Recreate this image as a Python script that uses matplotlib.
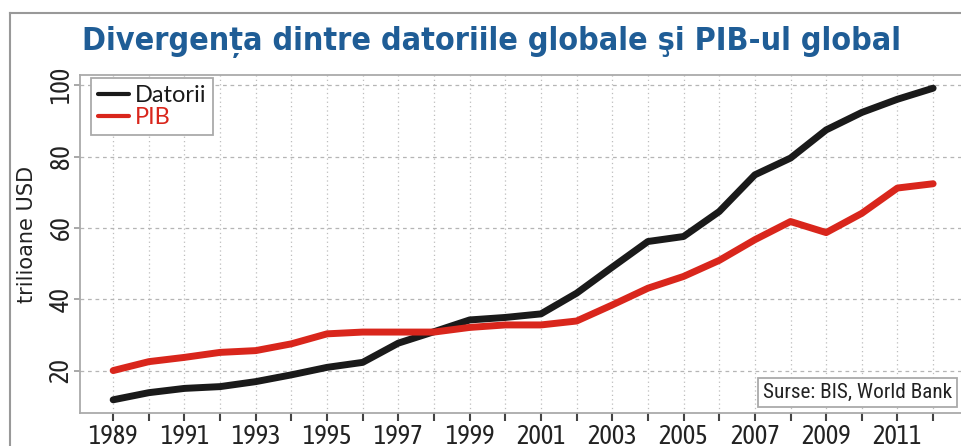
import matplotlib
matplotlib.use("Agg")
import matplotlib.pyplot as plt
from matplotlib.lines import Line2D

# ani si valori (trilioane USD)
ani = list(range(1989, 2013))
datorii = [11.8, 13.8, 15.0, 15.5, 16.9, 18.8, 20.9, 22.3, 27.7, 30.9, 34.2, 34.9,
           35.9, 41.7, 49.0, 56.2, 57.6, 64.6, 74.9, 79.6, 87.5, 92.4, 96.1, 99.2]
pib = [20.0, 22.5, 23.7, 25.1, 25.6, 27.5, 30.3, 30.8, 30.8, 30.8, 32.1, 32.8,
       32.8, 33.9, 38.4, 43.1, 46.4, 50.9, 56.7, 61.8, 58.7, 64.1, 71.2, 72.4]
yticks = [20, 40, 60, 80, 100]

titlu = "Divergența dintre datoriile globale şi PIB-ul global"
eticheta_y = "trilioane USD"
sursa = "Surse: BIS, World Bank"

NEGRU = "#1a1a1a"
ROSU = "#d9261c"

W, H = 962, 446
fig = plt.figure(figsize=(W / 100, H / 100), dpi=100)
ax = fig.add_axes([80 / W, 33 / H, (W - 80) / W, 338 / H])

ax.plot(ani, datorii, color=NEGRU, lw=5, solid_capstyle="round", label="Datorii", zorder=3)
ax.plot(ani, pib, color=ROSU, lw=5, solid_capstyle="round", label="PIB", zorder=3)

ax.set_xlim(1988.07, 2012.81)
ax.set_ylim(8.1, 102.9)

# axa x: tick la fiecare an, eticheta doar la anii impari
ax.set_xticks(ani)
ax.set_xticklabels([str(a) if a % 2 == 1 else "" for a in ani])
ax.set_yticks(yticks)
ax.set_yticklabels([str(v) for v in yticks], rotation=90, va="center")

axfont = "Asap Condensed"
for lab in ax.get_xticklabels() + ax.get_yticklabels():
    lab.set_fontfamily(axfont)
    lab.set_fontsize(19)
    lab.set_color("#222222")
ax.tick_params(axis="x", length=6, width=1.5, color="#444444", pad=2)
ax.tick_params(axis="y", length=4, width=1.2, color="#999999", pad=0.5)

ax.grid(axis="x", color="#bdbdbd", lw=0.9, linestyle=(0, (1, 2.5)))
ax.grid(axis="y", color="#b5b5b5", lw=0.9, linestyle=(0, (3, 3)))
ax.set_axisbelow(True)

for s in ["left", "bottom", "top"]:
    ax.spines[s].set_color("#aaaaaa")
    ax.spines[s].set_linewidth(1.3)
ax.spines["right"].set_visible(False)

ax.set_ylabel(eticheta_y, fontfamily="DejaVu Sans", fontsize=15, color="#222222", va="center")
ax.yaxis.set_label_coords((27 - 80) / 882, (413 - 234) / 338)

leg = ax.legend(loc="upper left", bbox_to_anchor=(11 / 882, 1 - 3 / 338), borderaxespad=0,
                prop={"family": "Lato", "size": 17}, handlelength=1.3, handletextpad=0.25,
                labelspacing=0.05, borderpad=0.3, fancybox=False, framealpha=1,
                edgecolor="#aaaaaa")
leg.get_frame().set_linewidth(1.3)
for txt, c in zip(leg.get_texts(), [NEGRU, ROSU]):
    txt.set_color(c)
for ln in leg.get_lines():
    ln.set_linewidth(3)

ax.text((763 - 80) / 882, (413 - 392.5) / 338, sursa, transform=ax.transAxes,
        ha="left", va="center", fontfamily="Roboto Condensed", fontsize=15.3, color="#222222",
        bbox=dict(boxstyle="square,pad=0.22", fc="white", ec="#aaaaaa", lw=1.3), zorder=5)

fig.text(492 / W, 1 - 42 / H, titlu, ha="center", va="center", fontfamily="DejaVu Sans",
         fontstretch="condensed", fontweight="bold", fontsize=23.1, color="#1f5d96")

# chenarul exterior
fig.add_artist(Line2D([10 / W, 10 / W], [0, 1 - 13 / H], color="#999999", lw=1.5))
fig.add_artist(Line2D([10 / W, 1], [1 - 13 / H, 1 - 13 / H], color="#999999", lw=1.5))

fig.savefig("out.png", dpi=100)
